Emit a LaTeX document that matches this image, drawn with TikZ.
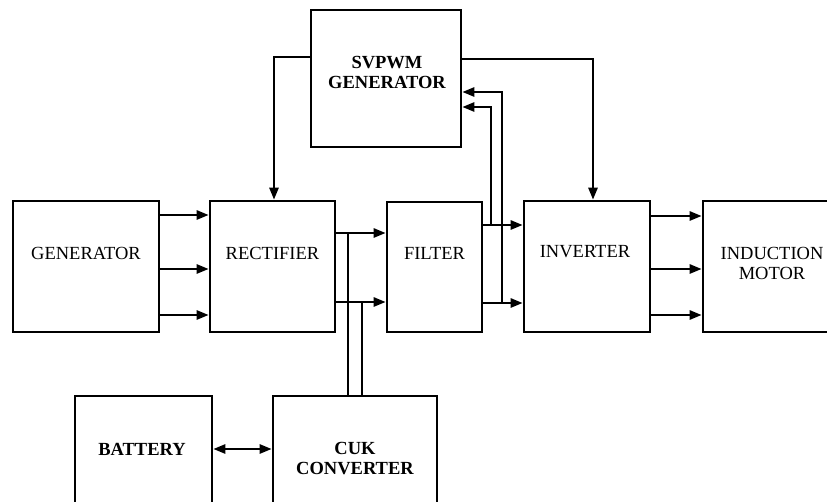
\documentclass[tikz,border=0pt]{standalone}
\usepackage{fontspec}
\setmainfont{Liberation Serif}
\usetikzlibrary{arrows.meta}
\begin{document}
\begin{tikzpicture}[x=1pt,y=-1pt,
  box/.style={draw,line width=2.6pt,inner sep=0pt},
  lbl/.style={font=\fontsize{18.5}{20}\selectfont,align=center,inner sep=0pt},
  blbl/.style={font=\fontsize{18.5}{20}\selectfont\bfseries,align=center,inner sep=0pt},
  wire/.style={line width=2.5pt},
  arr/.style={line width=2.5pt,-{Triangle[length=12pt,width=9pt]}},
  darr/.style={line width=2.5pt,{Triangle[length=12pt,width=9pt]}-{Triangle[length=12pt,width=9pt]}}
]
\useasboundingbox (0,0) rectangle (827,502);
\clip (0,0) rectangle (827,502);
% boxes
\node[box,minimum width=146pt,minimum height=131pt] (gen) at (86,266.5) {};
\node[box,minimum width=125pt,minimum height=131pt] (rect) at (272.5,266.5) {};
\node[box,minimum width=95pt,minimum height=130pt] (filt) at (434.5,267) {};
\node[box,minimum width=126pt,minimum height=131pt] (inv) at (587,266.5) {};
\node[box,minimum width=150pt,minimum height=131pt] (mot) at (778,266.5) {};
\node[box,minimum width=150pt,minimum height=137pt] (svp) at (386,78.5) {};
\node[box,minimum width=137pt,minimum height=130pt] (bat) at (143.5,461) {};
\node[box,minimum width=164pt,minimum height=130pt] (cuk) at (355,461) {};
% labels
\node[lbl] (genT) at (86,253) {GENERATOR};
\node[lbl] (rectT) at (272.5,253) {RECTIFIER};
\node[lbl] (filtT) at (434.5,253) {FILTER};
\node[lbl] (invT) at (585,252) {INVERTER};
\node[lbl] (motT) at (772,263) {INDUCTION\\MOTOR};
\node[blbl] (svpT) at (387,72) {SVPWM\\GENERATOR};
\node[blbl] (batT) at (142,449) {BATTERY};
\node[blbl] (cukT) at (355,459) {CUK\\CONVERTER};
% generator -> rectifier
\draw[arr] (gen.east |- 0,215) -- (rect.west |- 0,215);
\draw[arr] (gen.east |- 0,269) -- (rect.west |- 0,269);
\draw[arr] (gen.east |- 0,315) -- (rect.west |- 0,315);
% rectifier -> filter
\draw[arr] (rect.east |- 0,233) -- (filt.west |- 0,233);
\draw[arr] (rect.east |- 0,302) -- (filt.west |- 0,302);
\coordinate (j1) at (348,233);
\coordinate (j2) at (362,302);
\draw[wire] (j1) -- (j1 |- cuk.north);
\draw[wire] (j2) -- (j2 |- cuk.north);
% filter -> inverter
\draw[arr] (filt.east |- 0,225) -- (inv.west |- 0,225);
\draw[arr] (filt.east |- 0,303) -- (inv.west |- 0,303);
\coordinate (j3) at (491,225);
\coordinate (j4) at (502,303);
\draw[arr] (j3) -- (491,107) -- (svp.east |- 0,107);
\draw[arr] (j4) -- (502,92) -- (svp.east |- 0,92);
% svpwm -> rectifier, inverter
\draw[arr] (svp.west |- 0,57) -| (rect.north -| 274,0);
\draw[arr] (svp.east |- 0,59) -| (inv.north -| 593,0);
% inverter -> motor
\draw[arr] (inv.east |- 0,216) -- (mot.west |- 0,216);
\draw[arr] (inv.east |- 0,269) -- (mot.west |- 0,269);
\draw[arr] (inv.east |- 0,315) -- (mot.west |- 0,315);
% battery <-> cuk
\draw[darr] (bat.east |- 0,449) -- (cuk.west |- 0,449);
\end{tikzpicture}
\end{document}
